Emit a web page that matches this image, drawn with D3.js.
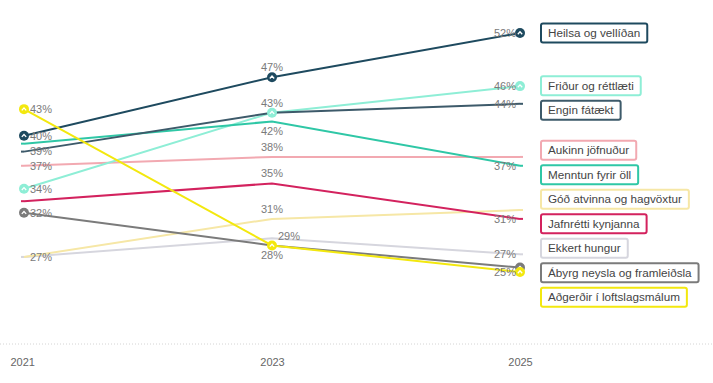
<!DOCTYPE html>
<html><head><meta charset="utf-8">
<script src="https://cdn.jsdelivr.net/npm/d3@7"></script>
<style>
html,body{margin:0;padding:0;background:#fff;}
svg{display:block;font-family:"Liberation Sans",Arial,sans-serif;}
</style></head>
<body>
<svg id="chart" width="713" height="383"></svg>
<script>
// ---- data ----
const years = [2021, 2023, 2025];
const yearLabels = ["2021", "2023", "2025"];
const seriesNames = [
  "Heilsa og vellíðan", "Friður og réttlæti", "Engin fátækt", "Aukinn jöfnuður",
  "Menntun fyrir öll", "Góð atvinna og hagvöxtur", "Jafnrétti kynjanna",
  "Ekkert hungur", "Ábyrg neysla og framleiðsla", "Aðgerðir í loftslagsmálum"
];
const heilsa    = [40.4, 47, 52];
const fridur    = [34.4, 43, 46];
const fataekt   = [38.6, 43, 44];
const jofnudur  = [37, 38, 38];
const menntun   = [39.5, 42, 37];
const atvinna   = [26.7, 31, 32];
const jafnretti = [33, 35, 31];
const hungur    = [26.7, 28.8, 27];
const neysla    = [31.7, 28, 25.5];
const loftslag  = [43.4, 28, 25];
const seriesValues = [heilsa, fridur, fataekt, jofnudur, menntun, atvinna, jafnretti, hungur, neysla, loftslag];
const seriesColors = ["#1e4a5f", "#8eeed6", "#3d5a6a", "#f2a9b1", "#2fc7a6", "#f6e7a6", "#d3225e", "#d6d6de", "#7b7b7b", "#f3e80e"];
// which points carry an icon marker (series index, year index)
const markers = [[0,0],[0,1],[0,2],[1,0],[1,1],[1,2],[8,0],[8,2],[9,0],[9,1],[9,2]];
// value labels: series index, year index, placement
const valueLabels = [
  [9,0,"right"],[0,0,"right"],[2,0,"right"],[3,0,"right"],[1,0,"right"],[8,0,"right"],[7,0,"right"],
  [0,1,"above"],[1,1,"above"],[4,1,"below"],[3,1,"above"],[6,1,"above"],[5,1,"above"],[7,1,"aboveRight"],[9,1,"below"],
  [0,2,"left"],[1,2,"left"],[2,2,"left"],[4,2,"left"],[6,2,"left"],[7,2,"left"],[9,2,"left"]
];

// ---- chart ----
const svg = d3.select("#chart");
const x = d3.scaleLinear().domain([2021, 2025]).range([24, 520]);
const y = d3.scaleLinear().domain([25, 52]).range([272, 33]);

// baseline
svg.append("line").attr("x1", 0).attr("x2", 713).attr("y1", 344).attr("y2", 344)
  .attr("stroke", "#d4d4d4").attr("stroke-width", 1).attr("stroke-dasharray", "1,2");

// x axis labels
const xAxis = d3.axisBottom(x).tickValues(years).tickFormat((d, i) => yearLabels[i]).tickSize(0).tickPadding(0);
const gx = svg.append("g").attr("transform", "translate(0,358)").call(xAxis);
gx.select(".domain").remove();
gx.selectAll("text").attr("fill", "#666").attr("font-size", 11).attr("dy", "0.71em")
  .attr("font-family", "Liberation Sans, Arial, sans-serif");
gx.selectAll(".tick").filter(d => d === 2021).select("text").attr("text-anchor", "start").attr("x", -14);

// draw order: light ones first
const order = [7, 5, 3, 1, 8, 6, 4, 2, 0, 9];
const line = d3.line().x((d, i) => x(years[i])).y(d => y(d));
svg.append("g").selectAll("path").data(order).join("path")
  .attr("d", s => line(seriesValues[s]))
  .attr("fill", "none").attr("stroke", s => seriesColors[s]).attr("stroke-width", 2);

// small end ticks at points without markers (first and last year)
const hasMarker = (s, yi) => markers.some(m => m[0] === s && m[1] === yi);
const ticks = [];
seriesValues.forEach((v, s) => {
  if (!hasMarker(s, 0)) ticks.push({s, yi: 0, dx: -3});
  if (!hasMarker(s, 2)) ticks.push({s, yi: 2, dx: 3});
});
svg.append("g").selectAll("line").data(ticks).join("line")
  .attr("x1", d => x(years[d.yi])).attr("x2", d => x(years[d.yi]) + d.dx)
  .attr("y1", d => y(seriesValues[d.s][d.yi])).attr("y2", d => y(seriesValues[d.s][d.yi]))
  .attr("stroke", d => seriesColors[d.s]).attr("stroke-width", 2);

// markers
const mg = svg.append("g").selectAll("g").data(markers).join("g")
  .attr("transform", m => `translate(${x(years[m[1]])},${y(seriesValues[m[0]][m[1]])})`);
mg.append("circle").attr("r", 5).attr("fill", m => seriesColors[m[0]]);
mg.append("path").attr("d", "M-2.2,1.2 L0,-1.2 L2.2,1.2").attr("fill", "none")
  .attr("stroke", "#fff").attr("stroke-width", 1.3);

// value labels
svg.append("g").selectAll("text").data(valueLabels).join("text")
  .attr("font-size", 11).attr("fill", "#7a7a7a")
  .text(d => Math.round(seriesValues[d[0]][d[1]]) + "%")
  .each(function(d) {
    const px = x(years[d[1]]), py = y(seriesValues[d[0]][d[1]]);
    const t = d3.select(this);
    if (d[2] === "right") t.attr("x", px + 6).attr("y", py).attr("dy", "0.35em").attr("text-anchor", "start");
    else if (d[2] === "left") t.attr("x", px - 4).attr("y", py).attr("dy", "0.35em").attr("text-anchor", "end");
    else if (d[2] === "above") t.attr("x", px).attr("y", py - 10).attr("dy", "0.35em").attr("text-anchor", "middle");
    else if (d[2] === "below") t.attr("x", px).attr("y", py + 10).attr("dy", "0.35em").attr("text-anchor", "middle");
    else if (d[2] === "aboveRight") t.attr("x", px + 6).attr("y", py - 2).attr("dy", "0.35em").attr("text-anchor", "start");
  });

// legend boxes, placed near final values with overlap resolution
const gap = 24.5;
let items = seriesValues.map((v, s) => ({s, target: y(v[2])})).sort((a, b) => a.target - b.target);
let clusters = items.map(it => ({items: [it], pos: it.target}));
const place = c => { c.pos = d3.mean(c.items, (it, i) => it.target - i * gap) + 3; };
let changed = true;
while (changed) {
  changed = false;
  for (let i = 0; i < clusters.length - 1; i++) {
    const a = clusters[i], b = clusters[i + 1];
    if (a.pos + a.items.length * gap > b.pos) {
      a.items = a.items.concat(b.items); place(a);
      clusters.splice(i + 1, 1); changed = true; break;
    }
  }
}
const legendY = {};
clusters.forEach(c => c.items.forEach((it, i) => legendY[it.s] = c.pos + i * gap));

const lg = svg.append("g").selectAll("g").data(seriesNames.map((n, s) => s)).join("g")
  .attr("transform", s => `translate(541,${legendY[s]})`);
lg.append("text").attr("x", 7).attr("y", 0).attr("dy", "0.35em").attr("font-size", 11.7)
  .attr("fill", "#444").text(s => seriesNames[s]);
lg.each(function(s) {
  const g = d3.select(this);
  const w = g.select("text").node().getComputedTextLength();
  g.insert("rect", "text").attr("x", 0).attr("y", -9.5).attr("width", w + 14).attr("height", 19)
    .attr("rx", 2).attr("fill", "#fff").attr("stroke", seriesColors[s]).attr("stroke-width", 2);
});
</script>
</body></html>
